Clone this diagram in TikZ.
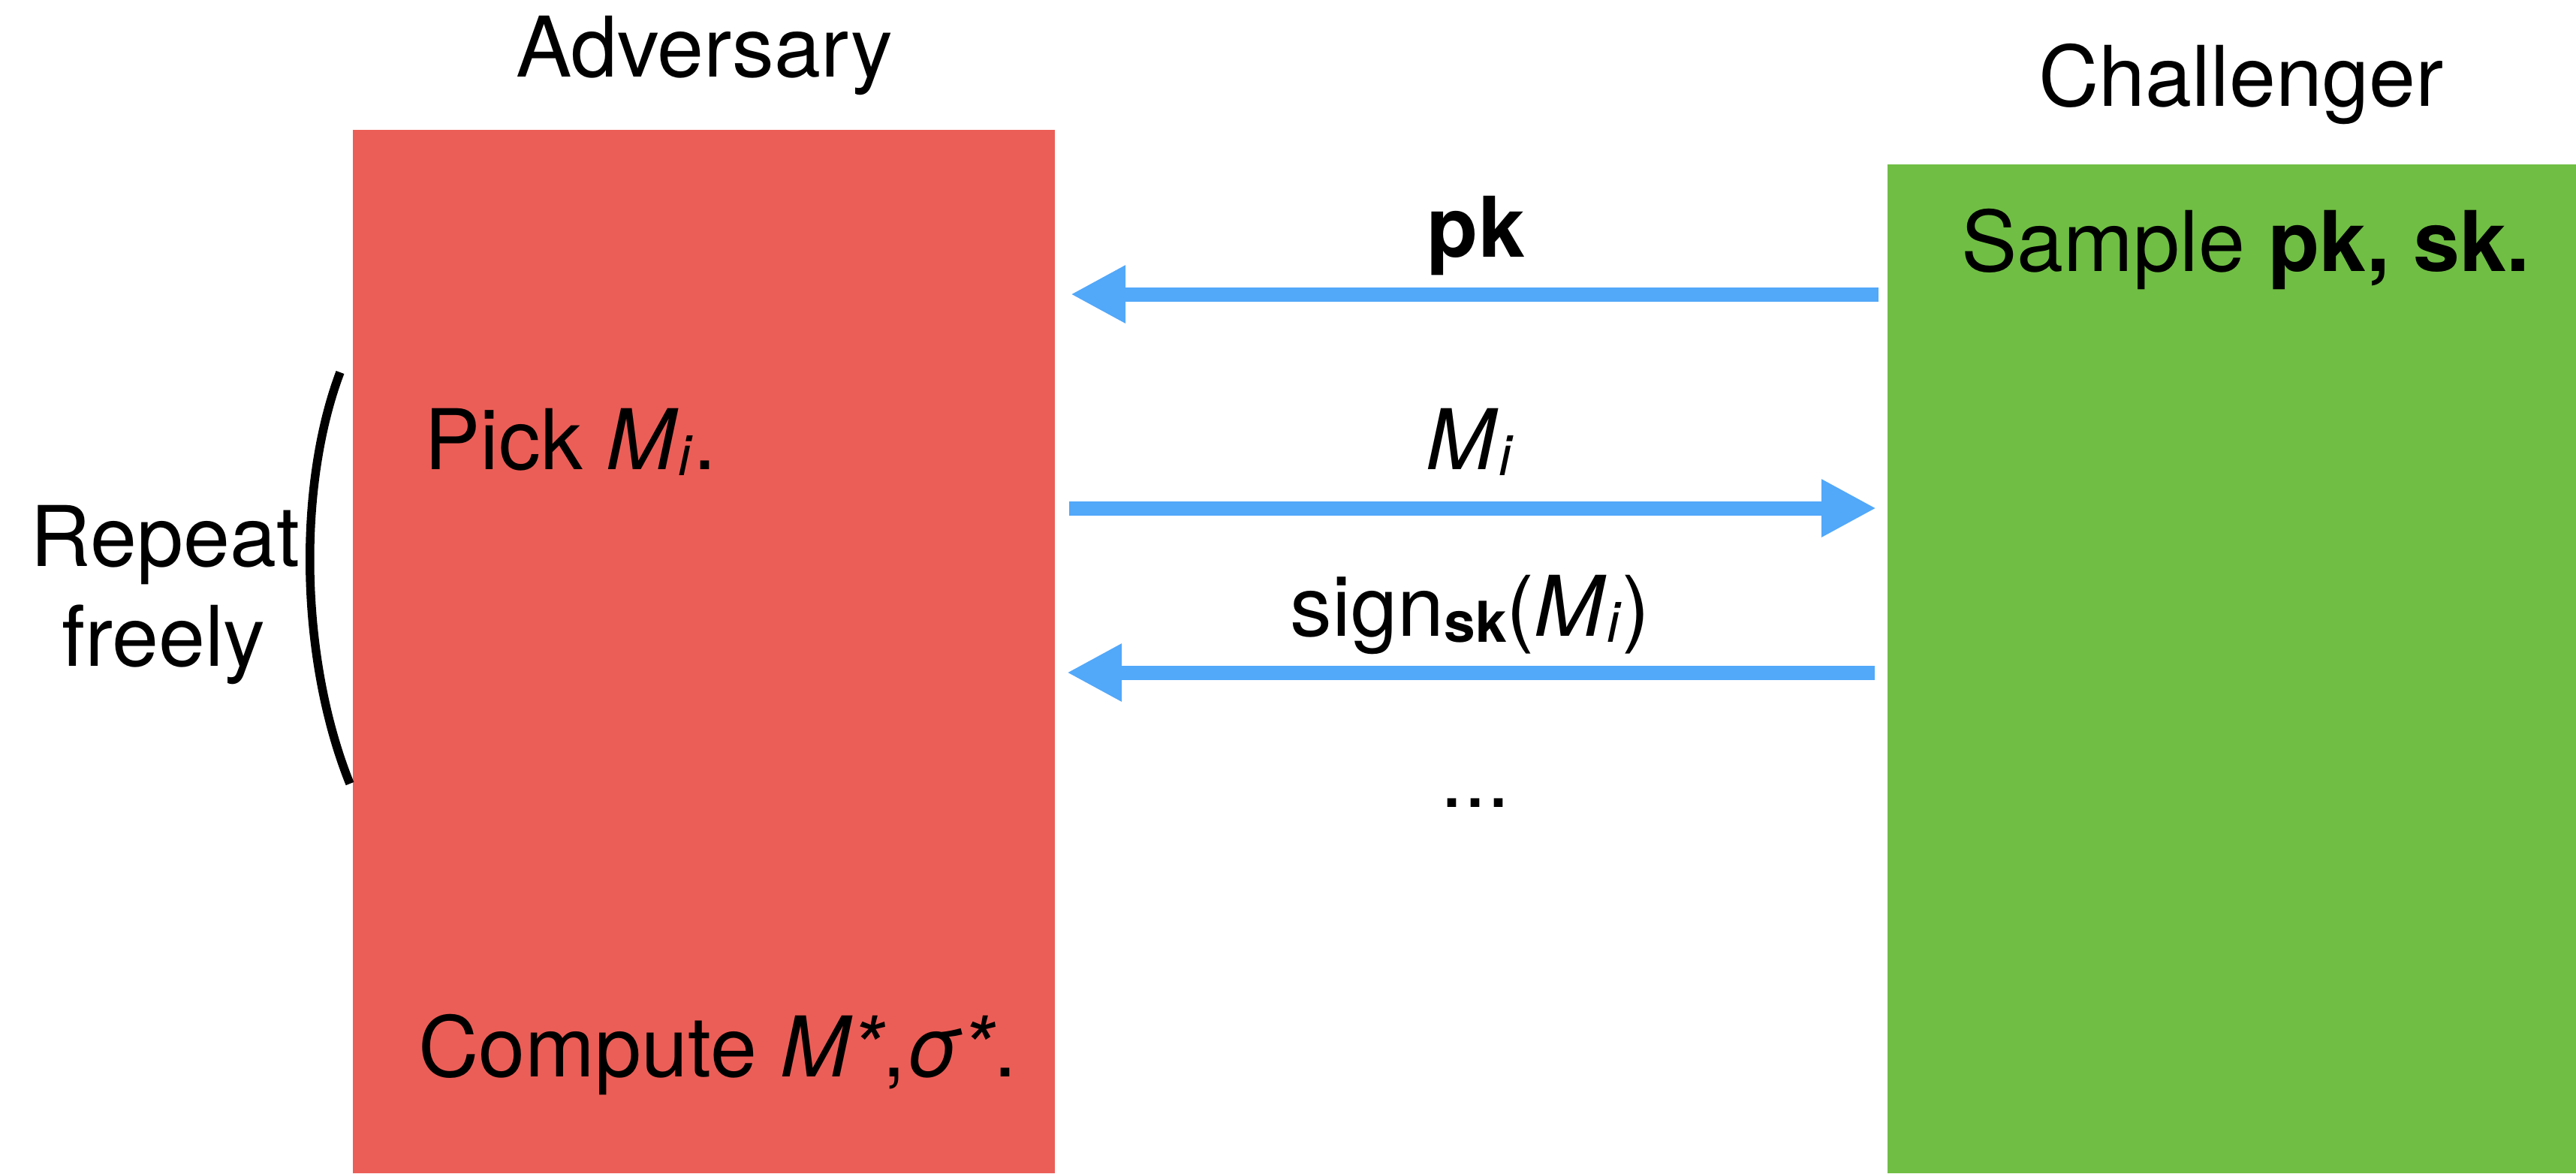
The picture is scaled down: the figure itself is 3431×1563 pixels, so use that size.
\documentclass[tikz,border=0pt]{standalone}
\usepackage{fontspec}
\setmainfont{TeX Gyre Heros}
\usetikzlibrary{arrows.meta}
\definecolor{advred}{RGB}{235,94,87}
\definecolor{chalgreen}{RGB}{112,190,68}
\definecolor{msgblue}{RGB}{82,168,249}
\newcommand{\lowsub}[1]{\raisebox{-1.6pt}{\fontsize{15}{15}\selectfont #1}}
\begin{document}
\begin{tikzpicture}[x=0.2pt,y=-0.2pt,
  txt/.style={inner sep=0pt, anchor=base, font=\fontsize{22.3}{26}\selectfont},
  msg/.style={draw=msgblue, line width=3.8pt, -{Triangle[length=14.6pt,width=14.4pt]}},
  panel/.style={inner sep=0pt, outer sep=0pt, anchor=north west}]
\useasboundingbox (0,0) rectangle (3431,1563);
% panels
\node[panel, fill=advred, minimum width=187pt, minimum height=278pt] (adv) at (470,173) {};
\node[panel, fill=chalgreen, minimum width=183.4pt, minimum height=268.8pt] (chal) at (2514,219) {};
% titles
\node[txt] (advlabel) at (938,102) {Adversary};
\node[txt] (challabel) at (2985,141) {Challenger};
% box texts
\node[txt] (sample) at (2991,361) {Sample \textbf{pk, sk.}};
\node[txt, anchor=base west] (pick) at (564,625) {Pick \textit{M}\lowsub{\textit{i}}.};
\node[txt, anchor=base west] (compute) at (556,1434) {Compute \textit{M*},\textit{σ*}.};
% messages
\draw[msg, shorten <=2.4pt, shorten >=4.2pt] (chal.west |- 0,392) -- (adv.east |- 0,392);
\draw[msg, shorten <=3.8pt, shorten >=3pt] (adv.east |- 0,677) -- (chal.west |- 0,677);
\draw[msg, shorten <=3.4pt, shorten >=3.2pt] (chal.west |- 0,896) -- (adv.east |- 0,896);
\node[txt] (pklabel) at (1966,342) {\textbf{pk}};
\node[txt] (milabel) at (1958,625) {\textit{M}\lowsub{\textit{i}}};
\node[txt] (signlabel) at (1958,847) {sign\lowsub{\textbf{sk}}(\textit{M}\lowsub{\textit{i}})};
\node[txt] (dots) at (1965,1075) {...};
% repeat bracket
\node[txt] (repeat) at (220,754) {Repeat};
\node[txt] (freely) at (218,887) {freely};
\coordinate (brtop) at (453,496);
\coordinate (brbot) at (466,1044);
\draw[line width=2.3pt] (brtop) .. controls (395,650) and (400,880) .. (brbot);
\end{tikzpicture}
\end{document}
